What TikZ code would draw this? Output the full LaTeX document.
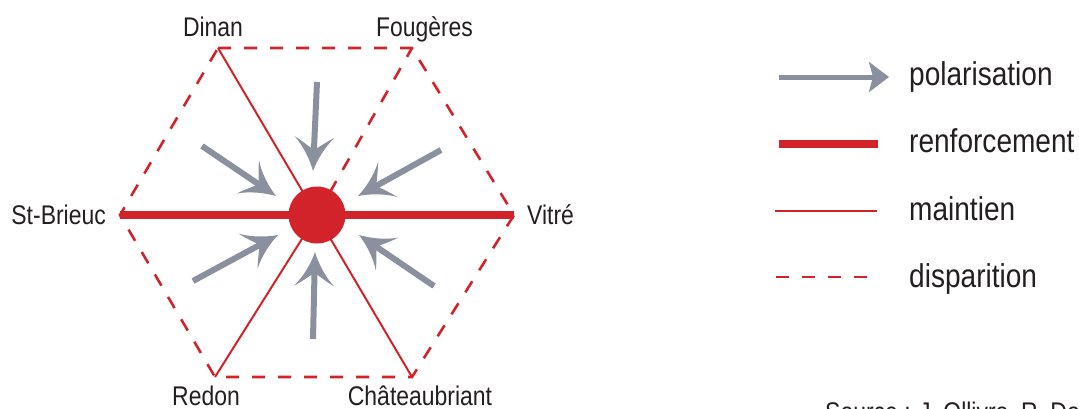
\documentclass[tikz,border=0pt]{standalone}
\usepackage{fontspec}
\setmainfont{Liberation Sans}[FakeStretch=0.85]
\usetikzlibrary{arrows.meta}
\definecolor{rred}{HTML}{D2232A}
\definecolor{agray}{HTML}{8A909D}
\definecolor{tblack}{HTML}{231F20}
\pgfdeclarearrow{
  name=Swept,
  setup code={
    \pgfarrowssettipend{0pt}
    \pgfarrowssetbackend{-34pt}
    \pgfarrowssetlineend{-20pt}
    \pgfarrowssetvisualbackend{-22pt}
    \pgfarrowshullpoint{0pt}{0pt}
    \pgfarrowshullpoint{-34pt}{20pt}
    \pgfarrowshullpoint{-34pt}{-20pt}
  },
  drawing code={
    \pgfpathmoveto{\pgfqpoint{0pt}{0pt}}
    \pgfpathcurveto{\pgfqpoint{-11pt}{3.5pt}}{\pgfqpoint{-25pt}{11pt}}{\pgfqpoint{-34pt}{20pt}}
    \pgfpathcurveto{\pgfqpoint{-29pt}{11pt}}{\pgfqpoint{-24pt}{5pt}}{\pgfqpoint{-21pt}{0pt}}
    \pgfpathcurveto{\pgfqpoint{-24pt}{-5pt}}{\pgfqpoint{-29pt}{-11pt}}{\pgfqpoint{-34pt}{-20pt}}
    \pgfpathcurveto{\pgfqpoint{-25pt}{-11pt}}{\pgfqpoint{-11pt}{-3.5pt}}{\pgfqpoint{0pt}{0pt}}
    \pgfpathclose
    \pgfsetfillcolor{agray}
    \pgfusepathqfill
  }
}
\tikzset{
  lbl/.style={anchor=base, text=tblack, font=\fontsize{27}{30}\selectfont, inner sep=0pt},
  leg/.style={anchor=base west, text=tblack, font=\fontsize{33}{36}\selectfont, inner sep=0pt},
  gone/.style={draw=rred, line width=2.6pt, dash pattern=on 13pt off 13pt},
  keep/.style={draw=rred, line width=2pt},
  strong/.style={draw=rred, line width=8pt},
  polar/.style={draw=agray, line width=6pt, -{Swept}},
  polarleg/.style={draw=agray, line width=5pt, -{Stealth[length=20pt, width=30pt, inset=4pt]}},
}
\begin{document}
\begin{tikzpicture}[x=1pt,y=-1pt]
\useasboundingbox (0,0) rectangle (1079,408);
% hexagon vertices
\coordinate (D) at (218,48);
\coordinate (F) at (412,48);
\coordinate (V) at (514,215);
\coordinate (C) at (412,377);
\coordinate (R) at (215,377);
\coordinate (S) at (120,215);
\coordinate (O) at (317,215);
% hexagon edges
\draw[gone] (D) -- (F) -- (V) -- (C) -- (R) -- (S) -- cycle;
% spokes
\draw[keep] (D) -- (C);
\draw[keep] (R) -- (O);
\draw[gone] (O) -- (F);
\draw[strong] (S) -- (V);
\node[circle, fill=rred, minimum size=57pt, inner sep=0pt] (hub) at (O) {};
% arrows
\coordinate (a1) at (317,82);  \coordinate (b1) at (313,171);
\coordinate (a2) at (202,146); \coordinate (b2) at (276,196);
\coordinate (a3) at (441,150); \coordinate (b3) at (358,196);
\coordinate (a4) at (193,281); \coordinate (b4) at (278,235);
\coordinate (a5) at (313,339); \coordinate (b5) at (315,252);
\coordinate (a6) at (434,286); \coordinate (b6) at (359,235);
\foreach \i in {1,...,6} {\draw[polar] (a\i) -- (b\i);}
% labels
\node[lbl] (nD) at (213,36.5) {Dinan};
\node[lbl] (nF) at (424.5,36.5) {Fougères};
\node[lbl, anchor=base east] (nS) at (106,224.5) {St-Brieuc};
\node[lbl, anchor=base west] (nV) at (527,224.5) {Vitré};
\node[lbl] (nR) at (206,405.5) {Redon};
\node[lbl] (nC) at (420,405.5) {Châteaubriant};
% legend
\coordinate (l1a) at (779,77);  \coordinate (l1b) at (889,77);
\coordinate (l2a) at (779,144); \coordinate (l2b) at (878,144);
\coordinate (l3a) at (775,211); \coordinate (l3b) at (877,211);
\coordinate (l4a) at (776,277); \coordinate (l4b) at (870,277);
\draw[polarleg] (l1a) -- (l1b);
\draw[strong] (l2a) -- (l2b);
\draw[keep] (l3a) -- (l3b);
\draw[gone] (l4a) -- (l4b);
\node[leg] (t1) at (909,85) {polarisation};
\node[leg] (t2) at (909,152.5) {renforcement};
\node[leg] (t3) at (909,220) {maintien};
\node[leg] (t4) at (909,287) {disparition};
\node[lbl, anchor=base west] (src) at (825,421) {Source : J. Ollivro, R. Do};
\end{tikzpicture}
\end{document}
